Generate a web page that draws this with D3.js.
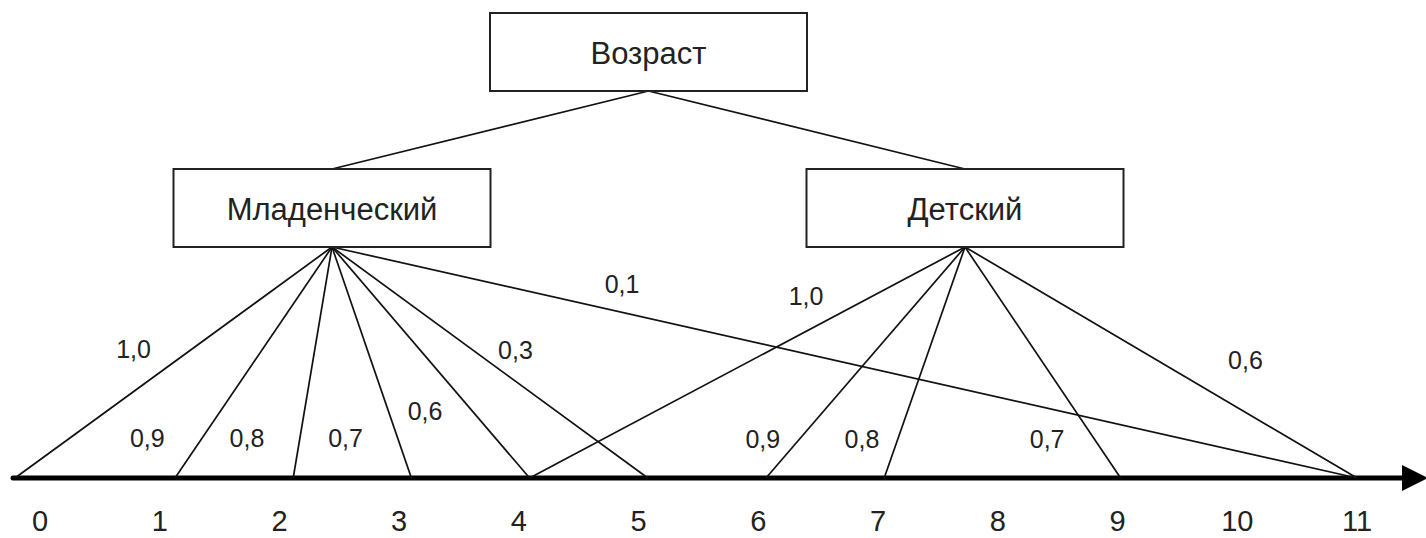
<!DOCTYPE html>
<html>
<head>
<meta charset="utf-8">
<script src="https://cdn.jsdelivr.net/npm/d3@7"></script>
<style>
  html, body { margin: 0; padding: 0; background: #fff; }
  svg { display: block; }
  text { font-family: "Liberation Sans", Arial, sans-serif; fill: #222; }
</style>
</head>
<body>
<svg id="chart" width="1426" height="538"></svg>
<script>
// ---- data ----
const rootName = "Возраст";
const groups = ["Младенческий", "Детский"];
const ageTicks = [0, 1, 2, 3, 4, 5, 6, 7, 8, 9, 10, 11];
const infantAges = [0, 1, 2, 3, 4, 5, 11];
const infantValues = [1.0, 0.9, 0.8, 0.7, 0.6, 0.3, 0.1];
const childAges = [4, 6, 7, 9, 11];
const childValues = [1.0, 0.9, 0.8, 0.7, 0.6];

// ---- layout (label anchors along each edge: t, dx, dy) ----
const infantLabelPos = [
  {t: 0.443, dx: -58, dy: 0}, {t: 0.826, dx: -55, dy: 0}, {t: 0.826, dx: -53, dy: 0},
  {t: 0.826, dx: -52, dy: 0}, {t: 0.709, dx: -47, dy: 0}, {t: 0.448, dx: 42, dy: 0},
  {t: 0.283, dx: 0, dy: -28}
];
const childLabelPos = [
  {t: 0.365, dx: 0, dy: -35}, {t: 0.83, dx: -37, dy: 0}, {t: 0.83, dx: -36, dy: 0},
  {t: 0.83, dx: -47, dy: 0}, {t: 0.491, dx: 88, dy: 0}
];

const svg = d3.select("#chart");
const W = 1426, H = 538;
svg.append("rect").attr("width", W).attr("height", H).attr("fill", "#fff");

const axisY = 478;
const boxW = 317, boxH = 78;
const rootY = 13, groupY = 169;

// scales
const groupX = d3.scalePoint().domain(groups).range([332, 965]);
const rootX = d3.mean(groups, g => groupX(g));
const footX = d3.scaleLinear().domain([0, 1, 11]).range([15, 175, 1357]);   // where edges meet the axis
const tickX = d3.scaleLinear().domain([0, 11]).range([40, 1357]);         // age labels

const fmt = v => d3.format(".1f")(v).replace(".", ",");

// ---- axis ----
const axisEnd = 1426;
svg.append("line")
  .attr("x1", 13).attr("x2", axisEnd - 22)
  .attr("y1", axisY).attr("y2", axisY)
  .attr("stroke", "#000").attr("stroke-width", 5).attr("stroke-linecap", "round");
svg.append("path")
  .attr("d", d3.line()([[axisEnd - 24, axisY - 13], [axisEnd + 2, axisY], [axisEnd - 24, axisY + 13]]) + "Z")
  .attr("fill", "#000");

svg.append("g").selectAll("text").data(ageTicks).join("text")
  .attr("x", d => tickX(d)).attr("y", 521)
  .attr("text-anchor", "middle").attr("dominant-baseline", "central")
  .attr("font-size", 29)
  .text(d => d);

// ---- edges from root to groups ----
const rootBottom = [rootX, rootY + boxH];
svg.append("g").selectAll("line").data(groups).join("line")
  .attr("x1", rootBottom[0]).attr("y1", rootBottom[1])
  .attr("x2", d => groupX(d)).attr("y2", groupY)
  .attr("stroke", "#111").attr("stroke-width", 1.7);

// ---- membership edges ----
const edgeSets = [
  {group: groups[0], ages: infantAges, values: infantValues, pos: infantLabelPos},
  {group: groups[1], ages: childAges, values: childValues, pos: childLabelPos}
];
const gEdges = svg.append("g");
const gLabels = svg.append("g");
edgeSets.forEach(set => {
  const x0 = groupX(set.group), y0 = groupY + boxH;
  const recs = set.ages.map((a, i) => ({a, v: set.values[i], p: set.pos[i]}));
  gEdges.selectAll(null).data(recs).join("line")
    .attr("x1", x0).attr("y1", y0)
    .attr("x2", d => footX(d.a)).attr("y2", axisY)
    .attr("stroke", "#111").attr("stroke-width", 1.7);
  gLabels.selectAll(null).data(recs).join("text")
    .attr("x", d => x0 + d.p.t * (footX(d.a) - x0) + d.p.dx)
    .attr("y", d => y0 + d.p.t * (axisY - y0) + d.p.dy)
    .attr("text-anchor", "middle").attr("dominant-baseline", "central")
    .attr("font-size", 25)
    .text(d => fmt(d.v));
});

// ---- boxes ----
const nodes = [{name: rootName, x: rootX, y: rootY}]
  .concat(groups.map(g => ({name: g, x: groupX(g), y: groupY})));
const gNodes = svg.append("g").selectAll("g").data(nodes).join("g");
gNodes.append("rect")
  .attr("x", d => d.x - boxW / 2).attr("y", d => d.y)
  .attr("width", boxW).attr("height", boxH)
  .attr("fill", "#fff").attr("stroke", "#222").attr("stroke-width", 2);
gNodes.append("text")
  .attr("x", d => d.x).attr("y", d => d.y + boxH / 2 + 1)
  .attr("text-anchor", "middle").attr("dominant-baseline", "central")
  .attr("font-size", 31)
  .text(d => d.name);
</script>
</body>
</html>
